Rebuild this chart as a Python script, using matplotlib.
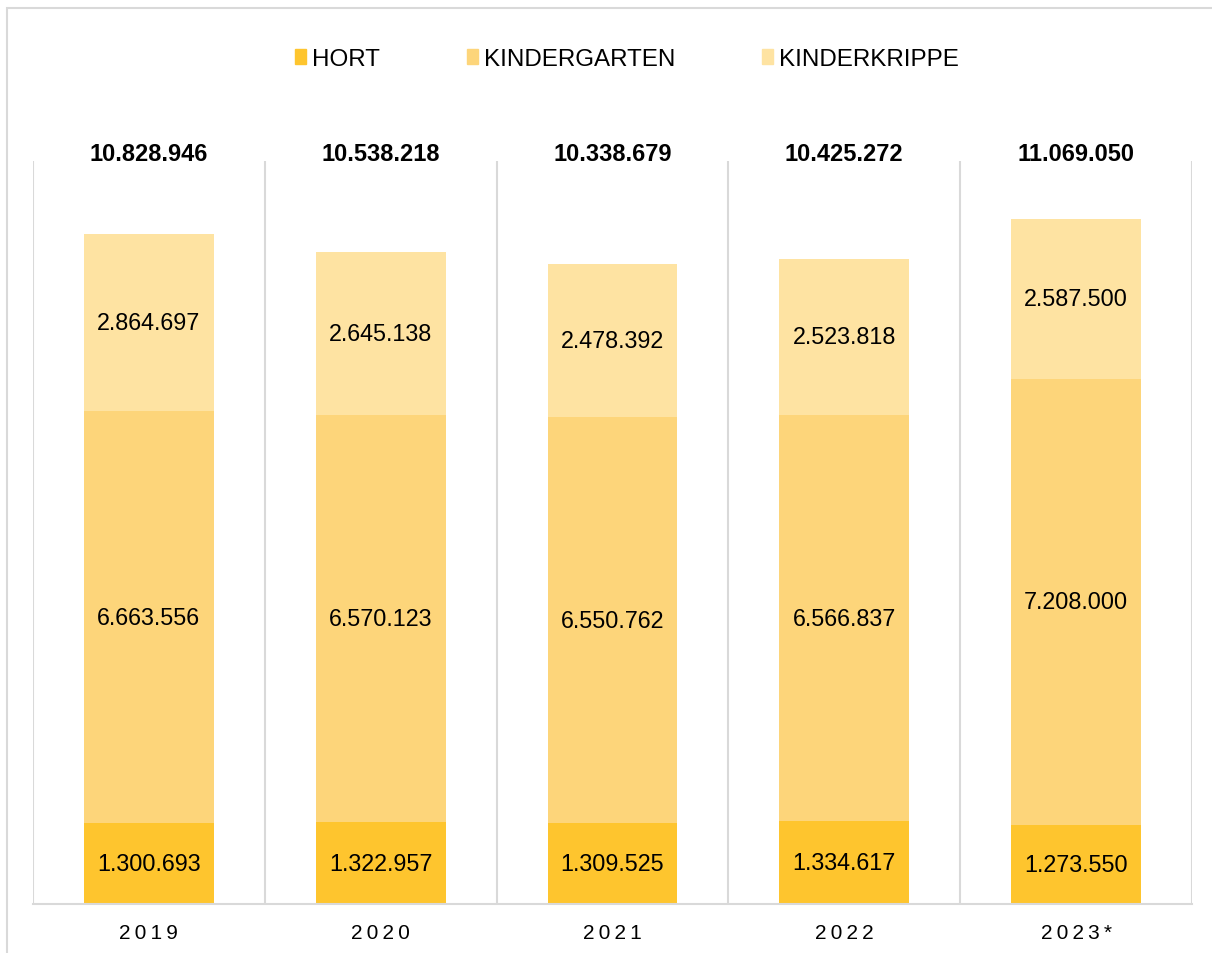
import numpy as np
import matplotlib.pyplot as plt
from matplotlib.patches import Rectangle, Patch

years = ["2019", "2020", "2021", "2022", "2023*"]
hort = [1300693, 1322957, 1309525, 1334617, 1273550]
kindergarten = [6663556, 6570123, 6550762, 6566837, 7208000]
kinderkrippe = [2864697, 2645138, 2478392, 2523818, 2587500]

c_hort = "#FEC52E"
c_kiga = "#FDD57A"
c_krippe = "#FEE3A2"
grid_c = "#D9D9D9"

plt.rcParams['font.family'] = ['Liberation Sans', 'DejaVu Sans']


def fmt(v):
    return f"{v:,}".replace(",", ".")


fig = plt.figure(figsize=(12.12, 9.54), dpi=100)
fig.patches.append(Rectangle((7 / 1212, -0.05), 1.1, 1.05 - 9 / 954, transform=fig.transFigure,
                             fill=False, edgecolor=grid_c, linewidth=1.5))
ax = fig.add_axes([33 / 1212, 1 - 905 / 954, (1192 - 33) / 1212, (905 - 162) / 954])

x = np.arange(len(years))
w = 0.56
hort_a = np.array(hort)
kiga_a = np.array(kindergarten)
krip_a = np.array(kinderkrippe)
totals = hort_a + kiga_a + krip_a

b1 = ax.bar(x, hort_a, w, color=c_hort, label="HORT")
b2 = ax.bar(x, kiga_a, w, bottom=hort_a, color=c_kiga, label="KINDERGARTEN")
b3 = ax.bar(x, krip_a, w, bottom=hort_a + kiga_a, color=c_krippe, label="KINDERKRIPPE")

for vals, bottoms in [(hort_a, 0 * hort_a), (kiga_a, hort_a), (krip_a, hort_a + kiga_a)]:
    for xi, v, b in zip(x, vals, bottoms):
        ax.text(xi, b + v / 2, fmt(v), ha="center", va="center", fontsize=16.8, color="black")

# Summen über den Balken
for xi, t in zip(x, totals):
    ax.annotate(fmt(int(t)), (xi, 12e6), xytext=(0, 5.5), textcoords="offset points",
                ha="center", va="center", fontsize=17, fontweight="bold", annotation_clip=False)

ax.set_xlim(-0.5, len(years) - 0.5)
ax.set_ylim(0, 12e6)
for b in np.arange(-0.5, len(years), 1.0):
    ax.axvline(b, color=grid_c, linewidth=1.5, zorder=0)

for s in ["top", "left", "right"]:
    ax.spines[s].set_visible(False)
ax.spines["bottom"].set_color(grid_c)
ax.spines["bottom"].set_linewidth(1.5)
ax.set_yticks([])
ax.set_xticks(x)
ax.set_xticklabels(["\u2009".join(y) for y in years], fontsize=15)
ax.tick_params(axis="x", length=0, pad=14)

handles = [Patch(color=c_hort, label="HORT"), Patch(color=c_kiga, label="KINDERGARTEN"),
           Patch(color=c_krippe, label="KINDERKRIPPE")]
fig.legend(handles=handles, loc="center", bbox_to_anchor=(627 / 1212, 1 - 60 / 954), ncol=3,
           frameon=False, fontsize=17.4, handlelength=0.45, handleheight=0.6, handletextpad=0.25,
           columnspacing=3.6)

fig.savefig("out.png", dpi=100)
